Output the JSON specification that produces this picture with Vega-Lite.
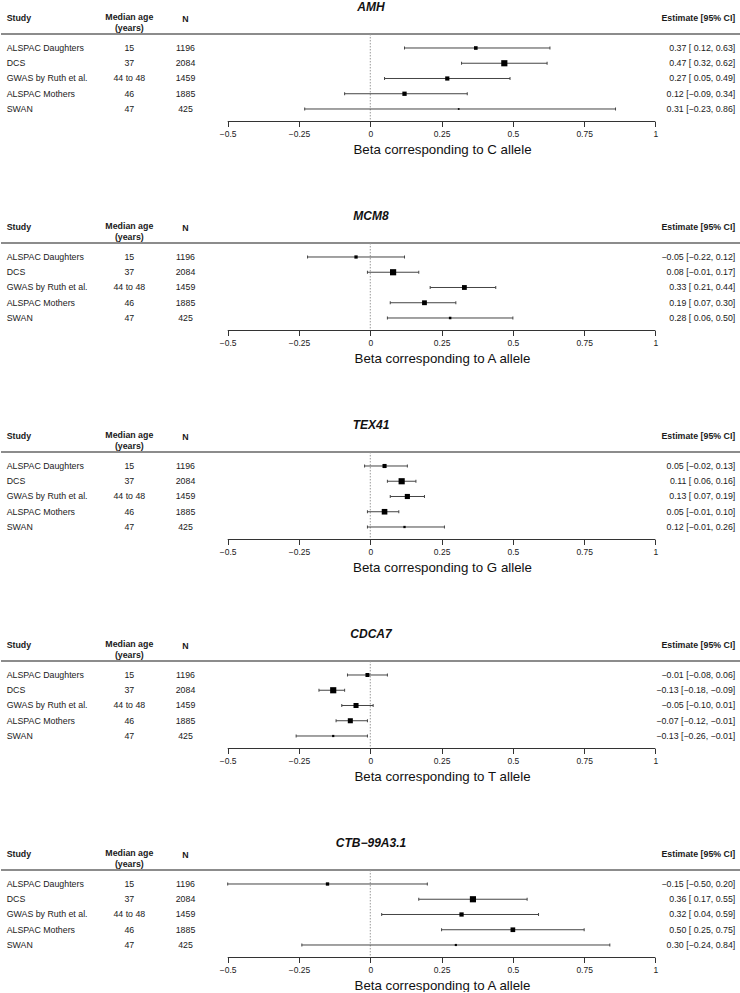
{
  "$schema": "https://vega.github.io/schema/vega-lite/v6.json",
  "padding": {"left": 0, "right": 0, "top": 1, "bottom": 0},
  "spacing": 54,
  "resolve": {"scale": {"size": "independent"}},
  "config": {
    "view": {"stroke": null},
    "font": "Liberation Sans",
    "title": {"fontSize": 12, "fontWeight": "bold", "fontStyle": "italic", "offset": -1, "anchor": "middle", "color": "#111", "font": "Liberation Sans"},
    "axis": {"labelFont": "Liberation Sans", "titleFont": "Liberation Sans"}
  },
  "datasets": {
    "forest": [
      {"gene": "AMH", "row": 1, "study": "ALSPAC Daughters", "age": "15", "n": 1196, "est": 0.37, "lo": 0.12, "hi": 0.63, "w": 59, "label": "0.37 [ 0.12, 0.63]"},
      {"gene": "AMH", "row": 2, "study": "DCS", "age": "37", "n": 2084, "est": 0.47, "lo": 0.32, "hi": 0.62, "w": 171, "label": "0.47 [ 0.32, 0.62]"},
      {"gene": "AMH", "row": 3, "study": "GWAS by Ruth et al.", "age": "44 to 48", "n": 1459, "est": 0.27, "lo": 0.05, "hi": 0.49, "w": 79, "label": "0.27 [ 0.05, 0.49]"},
      {"gene": "AMH", "row": 4, "study": "ALSPAC Mothers", "age": "46", "n": 1885, "est": 0.12, "lo": -0.09, "hi": 0.34, "w": 83, "label": "0.12 [−0.09, 0.34]"},
      {"gene": "AMH", "row": 5, "study": "SWAN", "age": "47", "n": 425, "est": 0.31, "lo": -0.23, "hi": 0.86, "w": 13, "label": "0.31 [−0.23, 0.86]"},
      {"gene": "MCM8", "row": 1, "study": "ALSPAC Daughters", "age": "15", "n": 1196, "est": -0.05, "lo": -0.22, "hi": 0.12, "w": 133, "label": "−0.05 [−0.22, 0.12]"},
      {"gene": "MCM8", "row": 2, "study": "DCS", "age": "37", "n": 2084, "est": 0.08, "lo": -0.01, "hi": 0.17, "w": 474, "label": "0.08 [−0.01, 0.17]"},
      {"gene": "MCM8", "row": 3, "study": "GWAS by Ruth et al.", "age": "44 to 48", "n": 1459, "est": 0.33, "lo": 0.21, "hi": 0.44, "w": 290, "label": "0.33 [ 0.21, 0.44]"},
      {"gene": "MCM8", "row": 4, "study": "ALSPAC Mothers", "age": "46", "n": 1885, "est": 0.19, "lo": 0.07, "hi": 0.30, "w": 290, "label": "0.19 [ 0.07, 0.30]"},
      {"gene": "MCM8", "row": 5, "study": "SWAN", "age": "47", "n": 425, "est": 0.28, "lo": 0.06, "hi": 0.50, "w": 79, "label": "0.28 [ 0.06, 0.50]"},
      {"gene": "TEX41", "row": 1, "study": "ALSPAC Daughters", "age": "15", "n": 1196, "est": 0.05, "lo": -0.02, "hi": 0.13, "w": 683, "label": "0.05 [−0.02, 0.13]"},
      {"gene": "TEX41", "row": 2, "study": "DCS", "age": "37", "n": 2084, "est": 0.11, "lo": 0.06, "hi": 0.16, "w": 1537, "label": "0.11 [ 0.06, 0.16]"},
      {"gene": "TEX41", "row": 3, "study": "GWAS by Ruth et al.", "age": "44 to 48", "n": 1459, "est": 0.13, "lo": 0.07, "hi": 0.19, "w": 1067, "label": "0.13 [ 0.07, 0.19]"},
      {"gene": "TEX41", "row": 4, "study": "ALSPAC Mothers", "age": "46", "n": 1885, "est": 0.05, "lo": -0.01, "hi": 0.10, "w": 1270, "label": "0.05 [−0.01, 0.10]"},
      {"gene": "TEX41", "row": 5, "study": "SWAN", "age": "47", "n": 425, "est": 0.12, "lo": -0.01, "hi": 0.26, "w": 211, "label": "0.12 [−0.01, 0.26]"},
      {"gene": "CDCA7", "row": 1, "study": "ALSPAC Daughters", "age": "15", "n": 1196, "est": -0.01, "lo": -0.08, "hi": 0.06, "w": 784, "label": "−0.01 [−0.08, 0.06]"},
      {"gene": "CDCA7", "row": 2, "study": "DCS", "age": "37", "n": 2084, "est": -0.13, "lo": -0.18, "hi": -0.09, "w": 1897, "label": "−0.13 [−0.18, −0.09]"},
      {"gene": "CDCA7", "row": 3, "study": "GWAS by Ruth et al.", "age": "44 to 48", "n": 1459, "est": -0.05, "lo": -0.10, "hi": 0.01, "w": 1270, "label": "−0.05 [−0.10, 0.01]"},
      {"gene": "CDCA7", "row": 4, "study": "ALSPAC Mothers", "age": "46", "n": 1885, "est": -0.07, "lo": -0.12, "hi": -0.01, "w": 1270, "label": "−0.07 [−0.12, −0.01]"},
      {"gene": "CDCA7", "row": 5, "study": "SWAN", "age": "47", "n": 425, "est": -0.13, "lo": -0.26, "hi": -0.01, "w": 246, "label": "−0.13 [−0.26, −0.01]"},
      {"gene": "CTB−99A3.1", "row": 1, "study": "ALSPAC Daughters", "age": "15", "n": 1196, "est": -0.15, "lo": -0.50, "hi": 0.20, "w": 31, "label": "−0.15 [−0.50, 0.20]"},
      {"gene": "CTB−99A3.1", "row": 2, "study": "DCS", "age": "37", "n": 2084, "est": 0.36, "lo": 0.17, "hi": 0.55, "w": 106, "label": "0.36 [ 0.17, 0.55]"},
      {"gene": "CTB−99A3.1", "row": 3, "study": "GWAS by Ruth et al.", "age": "44 to 48", "n": 1459, "est": 0.32, "lo": 0.04, "hi": 0.59, "w": 51, "label": "0.32 [ 0.04, 0.59]"},
      {"gene": "CTB−99A3.1", "row": 4, "study": "ALSPAC Mothers", "age": "46", "n": 1885, "est": 0.50, "lo": 0.25, "hi": 0.75, "w": 61, "label": "0.50 [ 0.25, 0.75]"},
      {"gene": "CTB−99A3.1", "row": 5, "study": "SWAN", "age": "47", "n": 425, "est": 0.30, "lo": -0.24, "hi": 0.84, "w": 13, "label": "0.30 [−0.24, 0.84]"}
    ]
  },
  "vconcat": [
    {
      "title": {"text": "AMH"},
      "width": 740, "height": 108.5,
      "data": {"name": "forest"},
      "transform": [{"filter": "datum.gene === 'AMH'"}],
      "layer": [
        {"transform": [{"filter": "datum.row === 1"}], "mark": {"type": "rule", "color": "#8c8c8c", "strokeWidth": 2},
         "encoding": {"y": {"datum": 0.08, "type": "quantitative", "scale": {"domain": [-1.295, 5.82], "reverse": true, "nice": false, "zero": false}, "axis": null}}},
        {"transform": [{"filter": "datum.row === 1"}], "mark": {"type": "rule", "color": "#999", "strokeWidth": 1, "strokeDash": [1.5, 1.5]},
         "encoding": {"x": {"datum": 0, "type": "quantitative", "scale": {"domain": [-1.295, 1.3], "nice": false, "zero": false},
            "axis": {"values": [-0.5, -0.25, 0, 0.25, 0.5, 0.75, 1], "format": "~g", "domain": false, "grid": false, "tickSize": 5, "tickColor": "#333", "labelFontSize": 8.5, "labelColor": "#222", "labelPadding": 3, "labelFlush": false, "title": "Beta corresponding to C allele", "titleFontSize": 13.3, "titleFontWeight": "normal", "titleColor": "#111", "titleX": 441, "titleAlign": "center", "titlePadding": 4}},
           "y": {"datum": 0.08, "type": "quantitative"}, "y2": {"datum": 5.82}}},
        {"transform": [{"filter": "datum.row === 1"}], "mark": {"type": "rule", "color": "#333", "strokeWidth": 1},
         "encoding": {"x": {"datum": -0.5, "type": "quantitative"}, "x2": {"datum": 1}, "y": {"datum": 5.82, "type": "quantitative"}}},
        {"mark": {"type": "rule", "color": "#444", "strokeWidth": 1},
         "encoding": {"x": {"field": "lo", "type": "quantitative"}, "x2": {"field": "hi"}, "y": {"field": "row", "type": "quantitative"}}},
        {"mark": {"type": "tick", "orient": "vertical", "size": 3, "thickness": 1, "color": "#444", "opacity": 1},
         "encoding": {"x": {"field": "lo", "type": "quantitative"}, "y": {"field": "row", "type": "quantitative"}}},
        {"mark": {"type": "tick", "orient": "vertical", "size": 3, "thickness": 1, "color": "#444", "opacity": 1},
         "encoding": {"x": {"field": "hi", "type": "quantitative"}, "y": {"field": "row", "type": "quantitative"}}},
        {"mark": {"type": "square", "color": "#000", "opacity": 1},
         "encoding": {"x": {"field": "est", "type": "quantitative"}, "y": {"field": "row", "type": "quantitative"},
           "size": {"field": "w", "type": "quantitative", "scale": {"type": "linear", "zero": true, "range": [0, 38]}, "legend": null}}},
        {"mark": {"type": "text", "align": "left", "baseline": "middle", "fontSize": 8.8, "color": "#1a1a1a"},
         "encoding": {"x": {"datum": -1.275, "type": "quantitative"}, "y": {"field": "row", "type": "quantitative"}, "text": {"field": "study"}}},
        {"mark": {"type": "text", "align": "center", "baseline": "middle", "fontSize": 8.8, "color": "#1a1a1a"},
         "encoding": {"x": {"datum": -0.845, "type": "quantitative"}, "y": {"field": "row", "type": "quantitative"}, "text": {"field": "age"}}},
        {"mark": {"type": "text", "align": "center", "baseline": "middle", "fontSize": 8.8, "color": "#1a1a1a"},
         "encoding": {"x": {"datum": -0.648, "type": "quantitative"}, "y": {"field": "row", "type": "quantitative"}, "text": {"field": "n"}}},
        {"mark": {"type": "text", "align": "right", "baseline": "middle", "fontSize": 8.8, "color": "#1a1a1a"},
         "encoding": {"x": {"datum": 1.28, "type": "quantitative"}, "y": {"field": "row", "type": "quantitative"}, "text": {"field": "label"}}},
        {"transform": [{"filter": "datum.row === 1"}], "mark": {"type": "text", "align": "left", "baseline": "middle", "fontSize": 8.8, "fontWeight": "bold", "color": "#1a1a1a"},
         "encoding": {"x": {"datum": -1.275, "type": "quantitative"}, "y": {"datum": -0.97, "type": "quantitative"}, "text": {"value": "Study"}}},
        {"transform": [{"filter": "datum.row === 1"}], "mark": {"type": "text", "align": "center", "baseline": "middle", "fontSize": 8.8, "fontWeight": "bold", "color": "#1a1a1a", "lineHeight": 11},
         "encoding": {"x": {"datum": -0.845, "type": "quantitative"}, "y": {"datum": -1.03, "type": "quantitative"}, "text": {"value": ["Median age", "(years)"]}}},
        {"transform": [{"filter": "datum.row === 1"}], "mark": {"type": "text", "align": "center", "baseline": "middle", "fontSize": 8.8, "fontWeight": "bold", "color": "#1a1a1a"},
         "encoding": {"x": {"datum": -0.648, "type": "quantitative"}, "y": {"datum": -0.88, "type": "quantitative"}, "text": {"value": "N"}}},
        {"transform": [{"filter": "datum.row === 1"}], "mark": {"type": "text", "align": "right", "baseline": "middle", "fontSize": 8.8, "fontWeight": "bold", "color": "#1a1a1a"},
         "encoding": {"x": {"datum": 1.28, "type": "quantitative"}, "y": {"datum": -0.99, "type": "quantitative"}, "text": {"value": "Estimate [95% CI]"}}}
      ]
    },
    {
      "title": {"text": "MCM8"},
      "width": 740, "height": 108.5,
      "data": {"name": "forest"},
      "transform": [{"filter": "datum.gene === 'MCM8'"}],
      "layer": [
        {"transform": [{"filter": "datum.row === 1"}], "mark": {"type": "rule", "color": "#8c8c8c", "strokeWidth": 2},
         "encoding": {"y": {"datum": 0.08, "type": "quantitative", "scale": {"domain": [-1.295, 5.82], "reverse": true, "nice": false, "zero": false}, "axis": null}}},
        {"transform": [{"filter": "datum.row === 1"}], "mark": {"type": "rule", "color": "#999", "strokeWidth": 1, "strokeDash": [1.5, 1.5]},
         "encoding": {"x": {"datum": 0, "type": "quantitative", "scale": {"domain": [-1.295, 1.3], "nice": false, "zero": false},
            "axis": {"values": [-0.5, -0.25, 0, 0.25, 0.5, 0.75, 1], "format": "~g", "domain": false, "grid": false, "tickSize": 5, "tickColor": "#333", "labelFontSize": 8.5, "labelColor": "#222", "labelPadding": 3, "labelFlush": false, "title": "Beta corresponding to A allele", "titleFontSize": 13.3, "titleFontWeight": "normal", "titleColor": "#111", "titleX": 441, "titleAlign": "center", "titlePadding": 4}},
           "y": {"datum": 0.08, "type": "quantitative"}, "y2": {"datum": 5.82}}},
        {"transform": [{"filter": "datum.row === 1"}], "mark": {"type": "rule", "color": "#333", "strokeWidth": 1},
         "encoding": {"x": {"datum": -0.5, "type": "quantitative"}, "x2": {"datum": 1}, "y": {"datum": 5.82, "type": "quantitative"}}},
        {"mark": {"type": "rule", "color": "#444", "strokeWidth": 1},
         "encoding": {"x": {"field": "lo", "type": "quantitative"}, "x2": {"field": "hi"}, "y": {"field": "row", "type": "quantitative"}}},
        {"mark": {"type": "tick", "orient": "vertical", "size": 3, "thickness": 1, "color": "#444", "opacity": 1},
         "encoding": {"x": {"field": "lo", "type": "quantitative"}, "y": {"field": "row", "type": "quantitative"}}},
        {"mark": {"type": "tick", "orient": "vertical", "size": 3, "thickness": 1, "color": "#444", "opacity": 1},
         "encoding": {"x": {"field": "hi", "type": "quantitative"}, "y": {"field": "row", "type": "quantitative"}}},
        {"mark": {"type": "square", "color": "#000", "opacity": 1},
         "encoding": {"x": {"field": "est", "type": "quantitative"}, "y": {"field": "row", "type": "quantitative"},
           "size": {"field": "w", "type": "quantitative", "scale": {"type": "linear", "zero": true, "range": [0, 38]}, "legend": null}}},
        {"mark": {"type": "text", "align": "left", "baseline": "middle", "fontSize": 8.8, "color": "#1a1a1a"},
         "encoding": {"x": {"datum": -1.275, "type": "quantitative"}, "y": {"field": "row", "type": "quantitative"}, "text": {"field": "study"}}},
        {"mark": {"type": "text", "align": "center", "baseline": "middle", "fontSize": 8.8, "color": "#1a1a1a"},
         "encoding": {"x": {"datum": -0.845, "type": "quantitative"}, "y": {"field": "row", "type": "quantitative"}, "text": {"field": "age"}}},
        {"mark": {"type": "text", "align": "center", "baseline": "middle", "fontSize": 8.8, "color": "#1a1a1a"},
         "encoding": {"x": {"datum": -0.648, "type": "quantitative"}, "y": {"field": "row", "type": "quantitative"}, "text": {"field": "n"}}},
        {"mark": {"type": "text", "align": "right", "baseline": "middle", "fontSize": 8.8, "color": "#1a1a1a"},
         "encoding": {"x": {"datum": 1.28, "type": "quantitative"}, "y": {"field": "row", "type": "quantitative"}, "text": {"field": "label"}}},
        {"transform": [{"filter": "datum.row === 1"}], "mark": {"type": "text", "align": "left", "baseline": "middle", "fontSize": 8.8, "fontWeight": "bold", "color": "#1a1a1a"},
         "encoding": {"x": {"datum": -1.275, "type": "quantitative"}, "y": {"datum": -0.97, "type": "quantitative"}, "text": {"value": "Study"}}},
        {"transform": [{"filter": "datum.row === 1"}], "mark": {"type": "text", "align": "center", "baseline": "middle", "fontSize": 8.8, "fontWeight": "bold", "color": "#1a1a1a", "lineHeight": 11},
         "encoding": {"x": {"datum": -0.845, "type": "quantitative"}, "y": {"datum": -1.03, "type": "quantitative"}, "text": {"value": ["Median age", "(years)"]}}},
        {"transform": [{"filter": "datum.row === 1"}], "mark": {"type": "text", "align": "center", "baseline": "middle", "fontSize": 8.8, "fontWeight": "bold", "color": "#1a1a1a"},
         "encoding": {"x": {"datum": -0.648, "type": "quantitative"}, "y": {"datum": -0.88, "type": "quantitative"}, "text": {"value": "N"}}},
        {"transform": [{"filter": "datum.row === 1"}], "mark": {"type": "text", "align": "right", "baseline": "middle", "fontSize": 8.8, "fontWeight": "bold", "color": "#1a1a1a"},
         "encoding": {"x": {"datum": 1.28, "type": "quantitative"}, "y": {"datum": -0.99, "type": "quantitative"}, "text": {"value": "Estimate [95% CI]"}}}
      ]
    },
    {
      "title": {"text": "TEX41"},
      "width": 740, "height": 108.5,
      "data": {"name": "forest"},
      "transform": [{"filter": "datum.gene === 'TEX41'"}],
      "layer": [
        {"transform": [{"filter": "datum.row === 1"}], "mark": {"type": "rule", "color": "#8c8c8c", "strokeWidth": 2},
         "encoding": {"y": {"datum": 0.08, "type": "quantitative", "scale": {"domain": [-1.295, 5.82], "reverse": true, "nice": false, "zero": false}, "axis": null}}},
        {"transform": [{"filter": "datum.row === 1"}], "mark": {"type": "rule", "color": "#999", "strokeWidth": 1, "strokeDash": [1.5, 1.5]},
         "encoding": {"x": {"datum": 0, "type": "quantitative", "scale": {"domain": [-1.295, 1.3], "nice": false, "zero": false},
            "axis": {"values": [-0.5, -0.25, 0, 0.25, 0.5, 0.75, 1], "format": "~g", "domain": false, "grid": false, "tickSize": 5, "tickColor": "#333", "labelFontSize": 8.5, "labelColor": "#222", "labelPadding": 3, "labelFlush": false, "title": "Beta corresponding to G allele", "titleFontSize": 13.3, "titleFontWeight": "normal", "titleColor": "#111", "titleX": 441, "titleAlign": "center", "titlePadding": 4}},
           "y": {"datum": 0.08, "type": "quantitative"}, "y2": {"datum": 5.82}}},
        {"transform": [{"filter": "datum.row === 1"}], "mark": {"type": "rule", "color": "#333", "strokeWidth": 1},
         "encoding": {"x": {"datum": -0.5, "type": "quantitative"}, "x2": {"datum": 1}, "y": {"datum": 5.82, "type": "quantitative"}}},
        {"mark": {"type": "rule", "color": "#444", "strokeWidth": 1},
         "encoding": {"x": {"field": "lo", "type": "quantitative"}, "x2": {"field": "hi"}, "y": {"field": "row", "type": "quantitative"}}},
        {"mark": {"type": "tick", "orient": "vertical", "size": 3, "thickness": 1, "color": "#444", "opacity": 1},
         "encoding": {"x": {"field": "lo", "type": "quantitative"}, "y": {"field": "row", "type": "quantitative"}}},
        {"mark": {"type": "tick", "orient": "vertical", "size": 3, "thickness": 1, "color": "#444", "opacity": 1},
         "encoding": {"x": {"field": "hi", "type": "quantitative"}, "y": {"field": "row", "type": "quantitative"}}},
        {"mark": {"type": "square", "color": "#000", "opacity": 1},
         "encoding": {"x": {"field": "est", "type": "quantitative"}, "y": {"field": "row", "type": "quantitative"},
           "size": {"field": "w", "type": "quantitative", "scale": {"type": "linear", "zero": true, "range": [0, 38]}, "legend": null}}},
        {"mark": {"type": "text", "align": "left", "baseline": "middle", "fontSize": 8.8, "color": "#1a1a1a"},
         "encoding": {"x": {"datum": -1.275, "type": "quantitative"}, "y": {"field": "row", "type": "quantitative"}, "text": {"field": "study"}}},
        {"mark": {"type": "text", "align": "center", "baseline": "middle", "fontSize": 8.8, "color": "#1a1a1a"},
         "encoding": {"x": {"datum": -0.845, "type": "quantitative"}, "y": {"field": "row", "type": "quantitative"}, "text": {"field": "age"}}},
        {"mark": {"type": "text", "align": "center", "baseline": "middle", "fontSize": 8.8, "color": "#1a1a1a"},
         "encoding": {"x": {"datum": -0.648, "type": "quantitative"}, "y": {"field": "row", "type": "quantitative"}, "text": {"field": "n"}}},
        {"mark": {"type": "text", "align": "right", "baseline": "middle", "fontSize": 8.8, "color": "#1a1a1a"},
         "encoding": {"x": {"datum": 1.28, "type": "quantitative"}, "y": {"field": "row", "type": "quantitative"}, "text": {"field": "label"}}},
        {"transform": [{"filter": "datum.row === 1"}], "mark": {"type": "text", "align": "left", "baseline": "middle", "fontSize": 8.8, "fontWeight": "bold", "color": "#1a1a1a"},
         "encoding": {"x": {"datum": -1.275, "type": "quantitative"}, "y": {"datum": -0.97, "type": "quantitative"}, "text": {"value": "Study"}}},
        {"transform": [{"filter": "datum.row === 1"}], "mark": {"type": "text", "align": "center", "baseline": "middle", "fontSize": 8.8, "fontWeight": "bold", "color": "#1a1a1a", "lineHeight": 11},
         "encoding": {"x": {"datum": -0.845, "type": "quantitative"}, "y": {"datum": -1.03, "type": "quantitative"}, "text": {"value": ["Median age", "(years)"]}}},
        {"transform": [{"filter": "datum.row === 1"}], "mark": {"type": "text", "align": "center", "baseline": "middle", "fontSize": 8.8, "fontWeight": "bold", "color": "#1a1a1a"},
         "encoding": {"x": {"datum": -0.648, "type": "quantitative"}, "y": {"datum": -0.88, "type": "quantitative"}, "text": {"value": "N"}}},
        {"transform": [{"filter": "datum.row === 1"}], "mark": {"type": "text", "align": "right", "baseline": "middle", "fontSize": 8.8, "fontWeight": "bold", "color": "#1a1a1a"},
         "encoding": {"x": {"datum": 1.28, "type": "quantitative"}, "y": {"datum": -0.99, "type": "quantitative"}, "text": {"value": "Estimate [95% CI]"}}}
      ]
    },
    {
      "title": {"text": "CDCA7"},
      "width": 740, "height": 108.5,
      "data": {"name": "forest"},
      "transform": [{"filter": "datum.gene === 'CDCA7'"}],
      "layer": [
        {"transform": [{"filter": "datum.row === 1"}], "mark": {"type": "rule", "color": "#8c8c8c", "strokeWidth": 2},
         "encoding": {"y": {"datum": 0.08, "type": "quantitative", "scale": {"domain": [-1.295, 5.82], "reverse": true, "nice": false, "zero": false}, "axis": null}}},
        {"transform": [{"filter": "datum.row === 1"}], "mark": {"type": "rule", "color": "#999", "strokeWidth": 1, "strokeDash": [1.5, 1.5]},
         "encoding": {"x": {"datum": 0, "type": "quantitative", "scale": {"domain": [-1.295, 1.3], "nice": false, "zero": false},
            "axis": {"values": [-0.5, -0.25, 0, 0.25, 0.5, 0.75, 1], "format": "~g", "domain": false, "grid": false, "tickSize": 5, "tickColor": "#333", "labelFontSize": 8.5, "labelColor": "#222", "labelPadding": 3, "labelFlush": false, "title": "Beta corresponding to T allele", "titleFontSize": 13.3, "titleFontWeight": "normal", "titleColor": "#111", "titleX": 441, "titleAlign": "center", "titlePadding": 4}},
           "y": {"datum": 0.08, "type": "quantitative"}, "y2": {"datum": 5.82}}},
        {"transform": [{"filter": "datum.row === 1"}], "mark": {"type": "rule", "color": "#333", "strokeWidth": 1},
         "encoding": {"x": {"datum": -0.5, "type": "quantitative"}, "x2": {"datum": 1}, "y": {"datum": 5.82, "type": "quantitative"}}},
        {"mark": {"type": "rule", "color": "#444", "strokeWidth": 1},
         "encoding": {"x": {"field": "lo", "type": "quantitative"}, "x2": {"field": "hi"}, "y": {"field": "row", "type": "quantitative"}}},
        {"mark": {"type": "tick", "orient": "vertical", "size": 3, "thickness": 1, "color": "#444", "opacity": 1},
         "encoding": {"x": {"field": "lo", "type": "quantitative"}, "y": {"field": "row", "type": "quantitative"}}},
        {"mark": {"type": "tick", "orient": "vertical", "size": 3, "thickness": 1, "color": "#444", "opacity": 1},
         "encoding": {"x": {"field": "hi", "type": "quantitative"}, "y": {"field": "row", "type": "quantitative"}}},
        {"mark": {"type": "square", "color": "#000", "opacity": 1},
         "encoding": {"x": {"field": "est", "type": "quantitative"}, "y": {"field": "row", "type": "quantitative"},
           "size": {"field": "w", "type": "quantitative", "scale": {"type": "linear", "zero": true, "range": [0, 38]}, "legend": null}}},
        {"mark": {"type": "text", "align": "left", "baseline": "middle", "fontSize": 8.8, "color": "#1a1a1a"},
         "encoding": {"x": {"datum": -1.275, "type": "quantitative"}, "y": {"field": "row", "type": "quantitative"}, "text": {"field": "study"}}},
        {"mark": {"type": "text", "align": "center", "baseline": "middle", "fontSize": 8.8, "color": "#1a1a1a"},
         "encoding": {"x": {"datum": -0.845, "type": "quantitative"}, "y": {"field": "row", "type": "quantitative"}, "text": {"field": "age"}}},
        {"mark": {"type": "text", "align": "center", "baseline": "middle", "fontSize": 8.8, "color": "#1a1a1a"},
         "encoding": {"x": {"datum": -0.648, "type": "quantitative"}, "y": {"field": "row", "type": "quantitative"}, "text": {"field": "n"}}},
        {"mark": {"type": "text", "align": "right", "baseline": "middle", "fontSize": 8.8, "color": "#1a1a1a"},
         "encoding": {"x": {"datum": 1.28, "type": "quantitative"}, "y": {"field": "row", "type": "quantitative"}, "text": {"field": "label"}}},
        {"transform": [{"filter": "datum.row === 1"}], "mark": {"type": "text", "align": "left", "baseline": "middle", "fontSize": 8.8, "fontWeight": "bold", "color": "#1a1a1a"},
         "encoding": {"x": {"datum": -1.275, "type": "quantitative"}, "y": {"datum": -0.97, "type": "quantitative"}, "text": {"value": "Study"}}},
        {"transform": [{"filter": "datum.row === 1"}], "mark": {"type": "text", "align": "center", "baseline": "middle", "fontSize": 8.8, "fontWeight": "bold", "color": "#1a1a1a", "lineHeight": 11},
         "encoding": {"x": {"datum": -0.845, "type": "quantitative"}, "y": {"datum": -1.03, "type": "quantitative"}, "text": {"value": ["Median age", "(years)"]}}},
        {"transform": [{"filter": "datum.row === 1"}], "mark": {"type": "text", "align": "center", "baseline": "middle", "fontSize": 8.8, "fontWeight": "bold", "color": "#1a1a1a"},
         "encoding": {"x": {"datum": -0.648, "type": "quantitative"}, "y": {"datum": -0.88, "type": "quantitative"}, "text": {"value": "N"}}},
        {"transform": [{"filter": "datum.row === 1"}], "mark": {"type": "text", "align": "right", "baseline": "middle", "fontSize": 8.8, "fontWeight": "bold", "color": "#1a1a1a"},
         "encoding": {"x": {"datum": 1.28, "type": "quantitative"}, "y": {"datum": -0.99, "type": "quantitative"}, "text": {"value": "Estimate [95% CI]"}}}
      ]
    },
    {
      "title": {"text": "CTB−99A3.1"},
      "width": 740, "height": 108.5,
      "data": {"name": "forest"},
      "transform": [{"filter": "datum.gene === 'CTB−99A3.1'"}],
      "layer": [
        {"transform": [{"filter": "datum.row === 1"}], "mark": {"type": "rule", "color": "#8c8c8c", "strokeWidth": 2},
         "encoding": {"y": {"datum": 0.08, "type": "quantitative", "scale": {"domain": [-1.295, 5.82], "reverse": true, "nice": false, "zero": false}, "axis": null}}},
        {"transform": [{"filter": "datum.row === 1"}], "mark": {"type": "rule", "color": "#999", "strokeWidth": 1, "strokeDash": [1.5, 1.5]},
         "encoding": {"x": {"datum": 0, "type": "quantitative", "scale": {"domain": [-1.295, 1.3], "nice": false, "zero": false},
            "axis": {"values": [-0.5, -0.25, 0, 0.25, 0.5, 0.75, 1], "format": "~g", "domain": false, "grid": false, "tickSize": 5, "tickColor": "#333", "labelFontSize": 8.5, "labelColor": "#222", "labelPadding": 3, "labelFlush": false, "title": "Beta corresponding to A allele", "titleFontSize": 13.3, "titleFontWeight": "normal", "titleColor": "#111", "titleX": 441, "titleAlign": "center", "titlePadding": 4}},
           "y": {"datum": 0.08, "type": "quantitative"}, "y2": {"datum": 5.82}}},
        {"transform": [{"filter": "datum.row === 1"}], "mark": {"type": "rule", "color": "#333", "strokeWidth": 1},
         "encoding": {"x": {"datum": -0.5, "type": "quantitative"}, "x2": {"datum": 1}, "y": {"datum": 5.82, "type": "quantitative"}}},
        {"mark": {"type": "rule", "color": "#444", "strokeWidth": 1},
         "encoding": {"x": {"field": "lo", "type": "quantitative"}, "x2": {"field": "hi"}, "y": {"field": "row", "type": "quantitative"}}},
        {"mark": {"type": "tick", "orient": "vertical", "size": 3, "thickness": 1, "color": "#444", "opacity": 1},
         "encoding": {"x": {"field": "lo", "type": "quantitative"}, "y": {"field": "row", "type": "quantitative"}}},
        {"mark": {"type": "tick", "orient": "vertical", "size": 3, "thickness": 1, "color": "#444", "opacity": 1},
         "encoding": {"x": {"field": "hi", "type": "quantitative"}, "y": {"field": "row", "type": "quantitative"}}},
        {"mark": {"type": "square", "color": "#000", "opacity": 1},
         "encoding": {"x": {"field": "est", "type": "quantitative"}, "y": {"field": "row", "type": "quantitative"},
           "size": {"field": "w", "type": "quantitative", "scale": {"type": "linear", "zero": true, "range": [0, 38]}, "legend": null}}},
        {"mark": {"type": "text", "align": "left", "baseline": "middle", "fontSize": 8.8, "color": "#1a1a1a"},
         "encoding": {"x": {"datum": -1.275, "type": "quantitative"}, "y": {"field": "row", "type": "quantitative"}, "text": {"field": "study"}}},
        {"mark": {"type": "text", "align": "center", "baseline": "middle", "fontSize": 8.8, "color": "#1a1a1a"},
         "encoding": {"x": {"datum": -0.845, "type": "quantitative"}, "y": {"field": "row", "type": "quantitative"}, "text": {"field": "age"}}},
        {"mark": {"type": "text", "align": "center", "baseline": "middle", "fontSize": 8.8, "color": "#1a1a1a"},
         "encoding": {"x": {"datum": -0.648, "type": "quantitative"}, "y": {"field": "row", "type": "quantitative"}, "text": {"field": "n"}}},
        {"mark": {"type": "text", "align": "right", "baseline": "middle", "fontSize": 8.8, "color": "#1a1a1a"},
         "encoding": {"x": {"datum": 1.28, "type": "quantitative"}, "y": {"field": "row", "type": "quantitative"}, "text": {"field": "label"}}},
        {"transform": [{"filter": "datum.row === 1"}], "mark": {"type": "text", "align": "left", "baseline": "middle", "fontSize": 8.8, "fontWeight": "bold", "color": "#1a1a1a"},
         "encoding": {"x": {"datum": -1.275, "type": "quantitative"}, "y": {"datum": -0.97, "type": "quantitative"}, "text": {"value": "Study"}}},
        {"transform": [{"filter": "datum.row === 1"}], "mark": {"type": "text", "align": "center", "baseline": "middle", "fontSize": 8.8, "fontWeight": "bold", "color": "#1a1a1a", "lineHeight": 11},
         "encoding": {"x": {"datum": -0.845, "type": "quantitative"}, "y": {"datum": -1.03, "type": "quantitative"}, "text": {"value": ["Median age", "(years)"]}}},
        {"transform": [{"filter": "datum.row === 1"}], "mark": {"type": "text", "align": "center", "baseline": "middle", "fontSize": 8.8, "fontWeight": "bold", "color": "#1a1a1a"},
         "encoding": {"x": {"datum": -0.648, "type": "quantitative"}, "y": {"datum": -0.88, "type": "quantitative"}, "text": {"value": "N"}}},
        {"transform": [{"filter": "datum.row === 1"}], "mark": {"type": "text", "align": "right", "baseline": "middle", "fontSize": 8.8, "fontWeight": "bold", "color": "#1a1a1a"},
         "encoding": {"x": {"datum": 1.28, "type": "quantitative"}, "y": {"datum": -0.99, "type": "quantitative"}, "text": {"value": "Estimate [95% CI]"}}}
      ]
    }
  ]
}
